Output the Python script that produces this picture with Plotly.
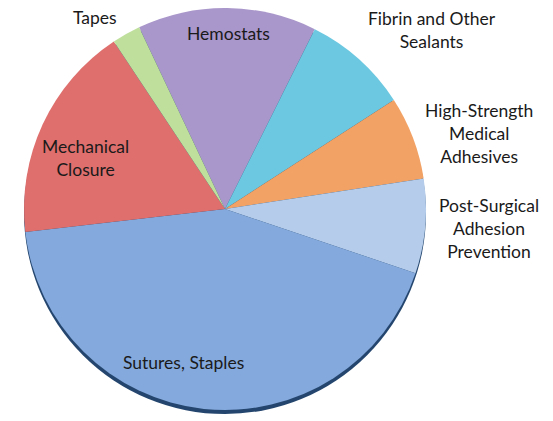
import plotly.graph_objects as go

labels = ["Hemostats", "Fibrin and Other Sealants", "High-Strength Medical Adhesives",
          "Post-Surgical Adhesion Prevention", "Sutures, Staples", "Mechanical Closure", "Tapes"]
values = [14.4, 8.5, 6.7, 7.6, 43.0, 17.5, 2.3]
colors = ["#a996ca", "#6cc8e0", "#f2a265", "#b5cdea", "#84a9dc", "#de6f6d", "#bfe09c"]

label_text = ["Hemostats", "Fibrin and Other<br>Sealants", "High-Strength<br>Medical<br>Adhesives",
              "Post-Surgical<br>Adhesion<br>Prevention", "Sutures, Staples", "Mechanical<br>Closure", "Tapes"]
# label centres in window pixels
label_px = [(228, 34), (432, 30), (479, 133), (489, 228), (183, 362), (85, 158), (95, 17)]

OFF = 8  # default page body margin
W, H = 545, 413
cx, cy, r = 225 - OFF, 209 - OFF, 201

def dom(dy=0):
    return dict(x=[(cx - r) / W, (cx + r) / W],
                y=[max(0, 1 - (cy + r + dy) / H), min(1, 1 - (cy - r + dy) / H)])

fig = go.Figure()
# dark rim (3D depth effect) beneath the pie
fig.add_trace(go.Pie(
    values=[1], marker=dict(colors=["#24466e"], line=dict(width=0)),
    textinfo="none", hoverinfo="skip", showlegend=False, sort=False,
    domain=dom(4),
))
fig.add_trace(go.Pie(
    labels=labels, values=values, sort=False, direction="clockwise", rotation=334.7,
    marker=dict(colors=colors, line=dict(width=0)),
    textinfo="none", showlegend=False,
    domain=dom(0),
))

for t, (px, py) in zip(label_text, label_px):
    fig.add_annotation(text=t, x=(px - OFF) / W, y=1 - (py - OFF) / H, xref="paper", yref="paper",
                       xanchor="center", yanchor="middle", showarrow=False,
                       font=dict(family="Lato", size=17.5, color="#1a1a1a"))

fig.update_layout(width=W, height=H, margin=dict(l=0, r=0, t=0, b=0),
                  paper_bgcolor="white", plot_bgcolor="white")
fig.write_html("out.html")
